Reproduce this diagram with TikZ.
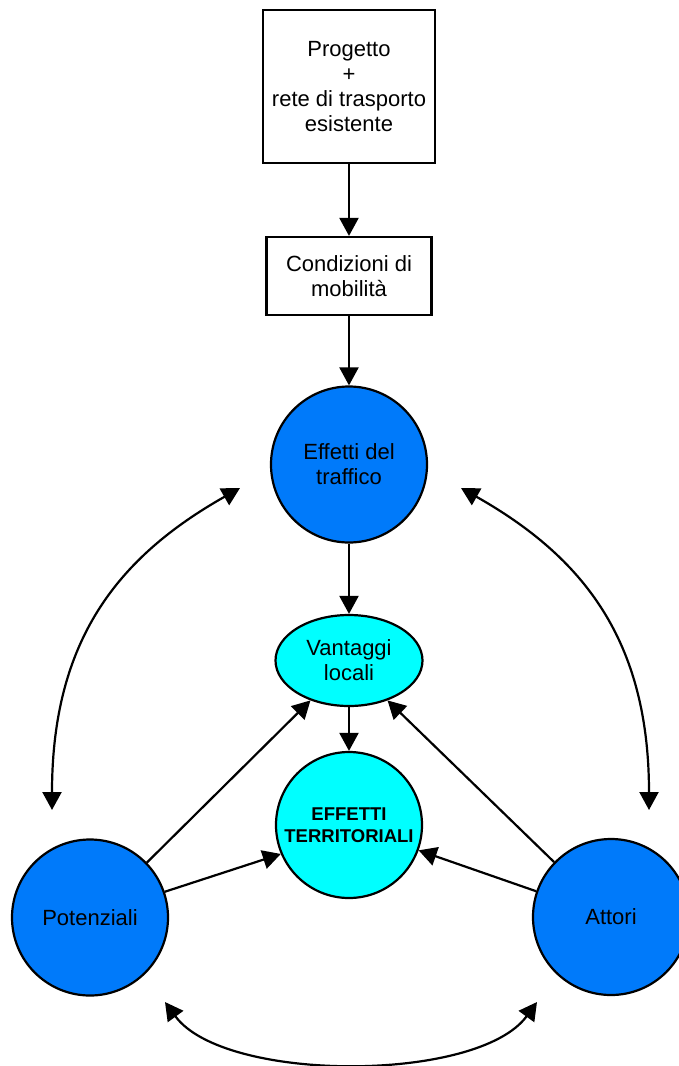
\documentclass[tikz,border=0pt]{standalone}
\usepackage{fontspec}
\setmainfont{Liberation Sans}
\usetikzlibrary{arrows.meta,positioning,shapes.geometric}
\definecolor{blu}{RGB}{0,122,250}
\definecolor{ciano}{RGB}{0,255,255}

\begin{document}
\begin{tikzpicture}[x=1pt,y=-1pt,on grid,line width=2.2pt,
   >={Triangle[length=18pt,width=19pt]},
   box/.style={draw,rectangle,align=center,inner sep=0pt,font=\fontsize{22}{25}\selectfont},
   bigc/.style={draw,circle,fill=blu,minimum size=156pt,inner sep=0pt,align=center,font=\fontsize{22}{25}\selectfont},
   ell/.style={draw,ellipse,fill=ciano,minimum width=147pt,minimum height=91pt,inner sep=0pt,align=center,font=\fontsize{22}{25}\selectfont},
   terrc/.style={draw,circle,fill=ciano,minimum size=146pt,inner sep=0pt,align=center,font=\fontsize{18.5}{21.7}\bfseries}]
   \useasboundingbox (0,0) rectangle (678,1066);

   \node[box,minimum width=172pt,minimum height=153pt] (prog) at (349,86.5) {Progetto\\+\\rete di trasporto\\esistente};
   \node[box,minimum width=165pt,minimum height=78pt] (cond) [below=189.5pt of prog] {Condizioni di\\mobilità};
   \node[bigc] (traff) [below=188.5pt of cond] {Effetti del\\traffico};
   \node[ell] (vant) [below=196pt of traff] {Vantaggi\\locali};
   \node[terrc] (terr) [below=164.5pt of vant] {EFFETTI\\TERRITORIALI};
   \node[bigc] (pot) [below left=92.5pt and 259pt of terr] {Potenziali};
   \node[bigc] (att) [below right=92pt and 262pt of terr] {Attori};

   \coordinate (lb) at (52,810);
   \coordinate (lt) at (240,488);
   \coordinate (rb) at (649,810);
   \coordinate (rt) at (461,488);
   \coordinate (bl) at (165,1002);
   \coordinate (br) at (537,1002);

   \draw[->] (prog) -- (cond);
   \draw[->] (cond) -- (traff);
   \draw[->] (traff) -- (vant);
   \draw[->] (vant) -- (terr);

   \draw[->] (pot.44) -- (vant.226);
   \draw[->] (pot.19) -- (terr.203);
   \draw[->] (att.136) -- (vant.314);
   \draw[->] (att.161) -- (terr.340);

   \draw[<->] (lb) .. controls (52,640) and (118,557) .. (lt);
   \draw[<->] (rb) .. controls (649,640) and (583,557) .. (rt);
   \draw[<->] (bl) .. controls (224,1083) and (478,1083) .. (br);
\end{tikzpicture}
\end{document}
